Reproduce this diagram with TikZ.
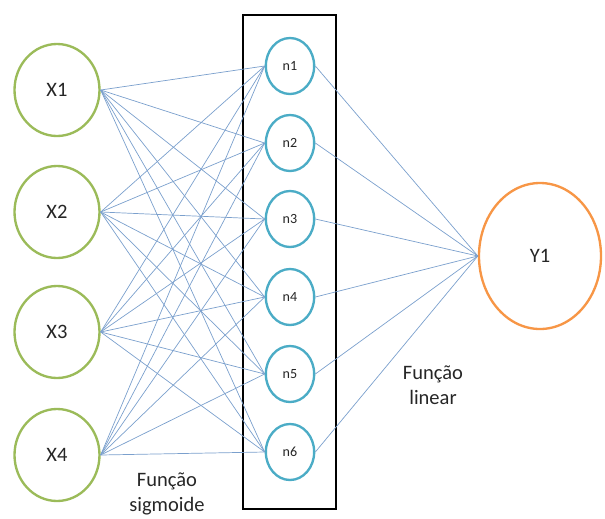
\documentclass[tikz,border=0pt]{standalone}
\usepackage{fontspec}
\setmainfont{Carlito}
\usepackage{tikz}
\usetikzlibrary{shapes.geometric}

\definecolor{inputgreen}{HTML}{9BBB59}
\definecolor{hiddenblue}{HTML}{4BACC6}
\definecolor{outputorange}{HTML}{F79646}
\definecolor{linkblue}{HTML}{4F81BD}

\begin{document}
\begin{tikzpicture}[x=0.03cm, y=-0.03cm,
    inputnode/.style={ellipse, draw=inputgreen, line width=2pt, fill=white,
                      minimum width=2.55cm, minimum height=2.76cm, inner sep=0pt,
                      font=\fontsize{17.5}{20}\selectfont, text=black!85},
    hiddennode/.style={ellipse, draw=hiddenblue, line width=2pt, fill=white,
                       minimum width=1.45cm, minimum height=1.68cm, inner sep=0pt,
                       font=\fontsize{12}{14}\selectfont, text=black!85},
    outputnode/.style={ellipse, draw=outputorange, line width=2pt, fill=white,
                       minimum width=3.66cm, minimum height=4.38cm, inner sep=0pt,
                       font=\fontsize{17.5}{20}\selectfont, text=black!85},
    link/.style={draw=linkblue!75, line width=0.6pt},
    caption/.style={font=\fontsize{17.5}{21}\selectfont, text=black!85, align=center}
]
    % Canvas
    \useasboundingbox (0,0) rectangle (605,518);

    % Hidden layer frame
    \draw[line width=2.5pt] (243,15) rectangle (336,509);

    % Input layer
    \node[inputnode] (x1) at (57,90)  {X1};
    \node[inputnode] (x2) at (57,212) {X2};
    \node[inputnode] (x3) at (57,332) {X3};
    \node[inputnode] (x4) at (57,455) {X4};

    % Hidden layer
    \node[hiddennode] (n1) at (290,66)  {n1};
    \node[hiddennode] (n2) at (290,143) {n2};
    \node[hiddennode] (n3) at (290,219) {n3};
    \node[hiddennode] (n4) at (290,297) {n4};
    \node[hiddennode] (n5) at (290,374) {n5};
    \node[hiddennode] (n6) at (290,452) {n6};

    % Output layer
    \node[outputnode] (y1) at (540,256) {Y1};

    % Connections
    \foreach \i in {1,...,4}
        \foreach \j in {1,...,6}
            \draw[link] (x\i.east) -- (n\j.west);
    \foreach \j in {1,...,6}
        \draw[link] (n\j.east) -- (y1.west);

    % Activation labels
    \node[caption] (sigm) at (167,494) {Função\\sigmoide};
    \node[caption] (lin)  at (433,385) {Função\\linear};
\end{tikzpicture}
\end{document}
